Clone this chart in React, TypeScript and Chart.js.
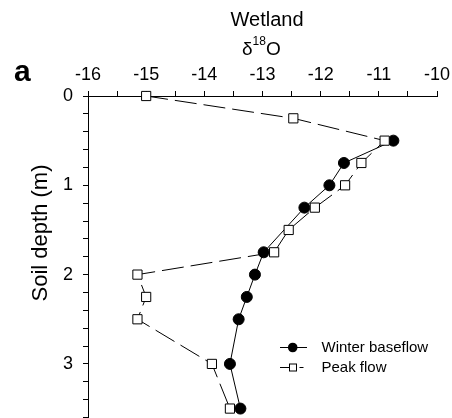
import React, { useEffect, useRef } from "react";
import { Chart, registerables } from "chart.js";

Chart.register(...registerables);

// Winter baseflow: soil depth (m) and δ18O
const depthWinter = [0.5, 0.75, 1.0, 1.25, 1.75, 2.0, 2.25, 2.5, 3.0, 3.5];
const d18OWinter = [-10.75, -11.6, -11.85, -12.28, -12.98, -13.13, -13.27, -13.41, -13.56, -13.38];

// Peak flow
const depthPeak = [0, 0.25, 0.5, 0.75, 1.0, 1.25, 1.5, 1.75, 2.0, 2.25, 2.5, 3.0, 3.5];
const d18OPeak = [-15.0, -12.47, -10.9, -11.3, -11.58, -12.1, -12.55, -12.8, -15.15, -15.0, -15.15, -13.87, -13.56];

const seriesNames = ["Winter baseflow", "Peak flow"];
const panelLabel = "a";
const topTitle = "Wetland";
const yTitle = "Soil depth (m)";

const FONT = "'Liberation Sans', Arial, Helvetica, sans-serif";

const isInt = (v: number) => Math.abs(v - Math.round(v)) < 1e-6;

export default function App() {
  const ref = useRef<HTMLCanvasElement>(null);

  useEffect(() => {
    document.body.style.margin = "0";
    const canvas = ref.current!;

    const fixArea = {
      id: "fixArea",
      afterLayout(chart: any) {
        const area = chart.chartArea;
        const bottom = 417.5;
        area.bottom = bottom;
        area.height = bottom - area.top;
        const y = chart.scales.y;
        y.bottom = bottom;
        y.height = bottom - y.top;
        y.configure();
      },
    };

    const annot = {
      id: "annot",
      afterDraw(chart: any) {
        const c = chart.ctx as CanvasRenderingContext2D;
        c.save();
        c.fillStyle = "#000";
        c.strokeStyle = "#000";
        c.textBaseline = "alphabetic";

        // panel label
        c.font = `bold 30px ${FONT}`;
        c.textAlign = "left";
        c.fillText(panelLabel, 14, 81);

        // top titles
        c.font = `20px ${FONT}`;
        c.textAlign = "center";
        c.fillText(topTitle, 267, 26);

        c.textAlign = "left";
        let x = 242;
        c.font = `19px ${FONT}`;
        c.fillText("δ", x, 55);
        x += c.measureText("δ").width;
        c.font = `12px ${FONT}`;
        c.fillText("18", x, 45);
        x += c.measureText("18").width;
        c.font = `19px ${FONT}`;
        c.fillText("O", x, 55);

        // y title
        c.save();
        c.translate(47, 233);
        c.rotate(-Math.PI / 2);
        c.textAlign = "center";
        c.textBaseline = "alphabetic";
        c.font = `22px ${FONT}`;
        c.fillText(yTitle, 0, 0);
        c.restore();

        // legend
        c.lineWidth = 1;
        c.setLineDash([]);
        const y1 = 347.5;
        c.beginPath();
        c.moveTo(280, y1);
        c.lineTo(307, y1);
        c.stroke();
        c.beginPath();
        c.arc(292.7, y1, 4.8, 0, Math.PI * 2);
        c.fill();

        const y2 = 367.5;
        c.beginPath();
        c.moveTo(280, y2);
        c.lineTo(289.5, y2);
        c.moveTo(299.5, y2);
        c.lineTo(303.5, y2);
        c.stroke();
        c.fillStyle = "#fff";
        c.fillRect(289.5, y2 - 3.5, 7, 7);
        c.strokeRect(289.5, y2 - 3.5, 7, 7);
        c.fillStyle = "#000";

        c.font = `15px ${FONT}`;
        c.textBaseline = "middle";
        c.textAlign = "left";
        c.fillText(seriesNames[0], 321.5, y1 + 0.5);
        c.fillText(seriesNames[1], 321.5, y2 + 0.5);

        c.restore();
      },
    };

    const winterPts = depthWinter.map((d, i) => ({ x: d18OWinter[i], y: d }));
    const peakPts = depthPeak.map((d, i) => ({ x: d18OPeak[i], y: d }));

    const chart = new Chart(canvas, {
      type: "scatter",
      data: {
        datasets: [
          {
            label: seriesNames[0],
            data: winterPts,
            showLine: true,
            borderColor: "#000",
            borderWidth: 1,
            backgroundColor: "#000",
            pointStyle: "circle",
            pointRadius: 5.5,
            pointBorderWidth: 1,
            pointBorderColor: "#000",
            pointBackgroundColor: "#000",
            order: 2,
            clip: false,
          } as any,
          {
            label: seriesNames[1],
            data: peakPts,
            showLine: true,
            borderColor: "#000",
            borderWidth: 1,
            borderDash: [22, 7],
            backgroundColor: "#fff",
            pointStyle: "rect",
            pointRadius: 6.5,
            pointBorderWidth: 1,
            pointBorderColor: "#000",
            pointBackgroundColor: "#fff",
            order: 1,
            clip: false,
          } as any,
        ],
      },
      options: {
        responsive: false,
        devicePixelRatio: 1,
        animation: false,
        layout: { padding: { left: 0, right: 15, top: 0, bottom: 0 } },
        plugins: {
          legend: { display: false },
          tooltip: { enabled: false },
          title: { display: false },
        },
        scales: {
          x: {
            type: "linear",
            position: "top",
            min: -16,
            max: -10,
            afterFit: (s: any) => {
              s.height = 96;
              s.paddingLeft = 0;
              s.paddingRight = 0;
            },
            ticks: {
              stepSize: 0.5,
              autoSkip: false,
              maxRotation: 0,
              padding: 5,
              color: "#000",
              font: { family: FONT, size: 18 },
              callback: (v: any) => (isInt(Number(v)) ? String(Math.round(Number(v))) : ""),
            },
            grid: {
              display: true,
              drawOnChartArea: false,
              drawTicks: true,
              tickLength: 5,
              color: "#000",
              lineWidth: 1,
            },
            border: { display: true, color: "#000", width: 1 },
          },
          y: {
            type: "linear",
            reverse: true,
            min: 0,
            max: 3.6,
            afterFit: (s: any) => {
              s.width = 88;
              s.paddingTop = 0;
              s.paddingBottom = 0;
            },
            ticks: {
              stepSize: 0.2,
              autoSkip: false,
              padding: 10,
              color: "#000",
              font: { family: FONT, size: 18, lineHeight: 0.01 },
              callback: (v: any) => (isInt(Number(v)) ? String(Math.round(Number(v))) : ""),
            },
            grid: {
              display: true,
              drawOnChartArea: false,
              drawTicks: true,
              tickLength: 5,
              color: "#000",
              lineWidth: 1,
            },
            border: { display: true, color: "#000", width: 1 },
          },
        },
      } as any,
      plugins: [fixArea, annot],
    });

    return () => chart.destroy();
  }, []);

  return (
    <div style={{ position: "fixed", left: 0, top: 0, width: 452, height: 418, background: "#fff" }}>
      <canvas ref={ref} width={452} height={418} style={{ display: "block", width: 452, height: 418 }} />
    </div>
  );
}
